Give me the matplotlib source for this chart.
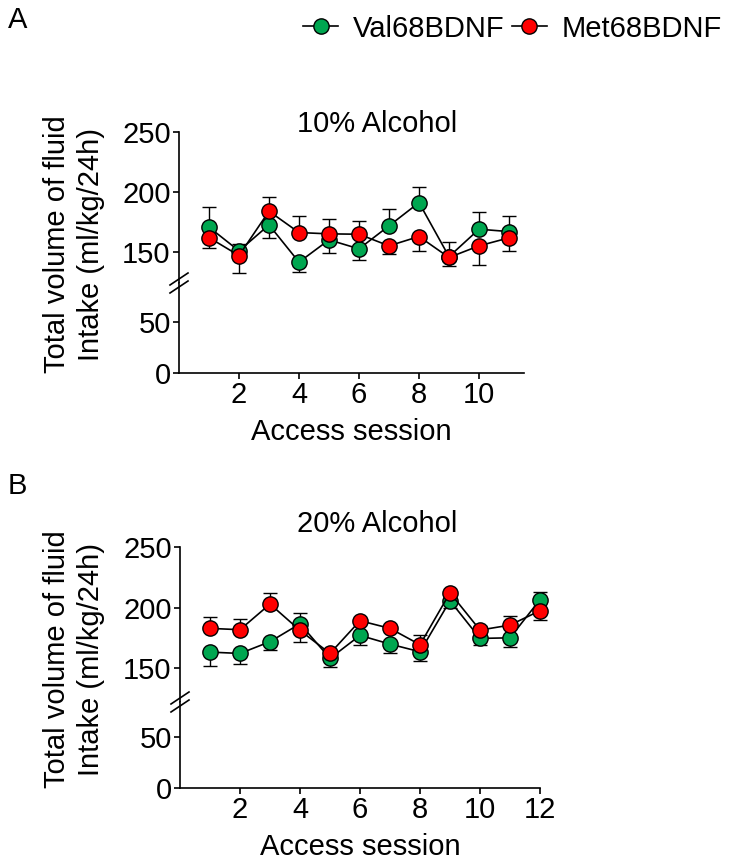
import numpy as np
import matplotlib.pyplot as plt
from matplotlib.lines import Line2D

plt.rcParams['font.family'] = ['Liberation Sans', 'DejaVu Sans']
plt.rcParams['font.size'] = 21

GREEN = "#00a650"
RED = "#ff0000"

# panel A: 10% alcohol, sessions 1-11
sess_a = np.arange(1, 12)
val_a = [170.6, 150.8, 172.5, 141.4, 160.0, 152.5, 171.7, 191.1, 146.0, 168.9, 166.9]
val_a_lo = [0, 0, 10.6, 8.6, 11.1, 9.7, 0, 0, 0, 0, 0]
val_a_hi = [16.4, 6.0, 0, 0, 0, 0, 14.4, 13.3, 12.0, 14.0, 13.4]
met_a = [161.9, 146.9, 183.9, 166.1, 165.0, 164.7, 155.0, 162.8, 145.3, 155.0, 161.7]
met_a_lo = [8.3, 14.7, 0, 0, 0, 0, 6.9, 12.0, 7.0, 15.8, 11.4]
met_a_hi = [0, 0, 11.7, 14.2, 12.8, 11.1, 0, 0, 0, 0, 0]

# panel B: 20% alcohol, sessions 1-12
sess_b = np.arange(1, 13)
val_b = [163.2, 162.1, 171.8, 186.6, 158.0, 177.0, 169.8, 163.5, 205.6, 174.5, 175.0, 206.5]
val_b_lo = [11.3, 8.8, 6.9, 0, 7.0, 8.3, 7.4, 7.5, 6.3, 5.5, 7.4, 0]
val_b_hi = [0, 0, 0, 8.6, 0, 0, 0, 0, 0, 0, 0, 6.0]
met_b = [182.8, 181.7, 202.9, 181.1, 162.1, 189.1, 182.8, 169.3, 212.2, 181.4, 185.5, 197.4]
met_b_lo = [0, 0, 0, 9.6, 0, 0, 0, 0, 0, 0, 0, 7.5]
met_b_hi = [9.6, 8.5, 9.3, 0, 0, 0, 0, 8.2, 0, 3.0, 7.5, 0]

W, H = 729, 863
fig = plt.figure(figsize=(W / 100, H / 100), dpi=100)


def px(x0, top, x1, bottom):
    return [x0 / W, 1 - bottom / H, (x1 - x0) / W, (bottom - top) / H]


def draw_series(ax, x, y, lo, hi, color, z):
    ax.errorbar(x, y, yerr=[lo, hi], fmt="none", ecolor="black", elinewidth=1.0,
                capsize=5, capthick=1.0, zorder=z, clip_on=False)
    ax.plot(x, y, "-o", color="black", lw=1.2, ms=11, mfc=color, mec="black",
            mew=1.0, zorder=z + 0.5, clip_on=False)


def panel(x0, x1, top, brk, bottom, up_lim, low_lim, xmax, xticks, sess, series,
          title, title_y, letter, letter_y):
    ax_up = fig.add_axes(px(x0, top, x1, brk))
    ax_lo = fig.add_axes(px(x0, brk, x1, bottom), sharex=ax_up)
    for ax in (ax_up, ax_lo):
        for s in ("top", "right"):
            ax.spines[s].set_visible(False)
        ax.spines["left"].set_linewidth(1.2)
        ax.spines["bottom"].set_linewidth(1.2)
        ax.tick_params(width=1.2, length=4, pad=2, labelsize=21)
    # data only in upper segment (all values > 130)
    for y, lo, hi, c, z in series:
        draw_series(ax_up, sess, y, lo, hi, c, z)
    ax_up.spines["bottom"].set_visible(False)
    ax_up.tick_params(axis="x", bottom=False, labelbottom=False)
    ax_up.set_ylim(*up_lim)
    ax_up.set_yticks([150, 200, 250])
    ax_lo.set_ylim(*low_lim)
    ax_lo.set_yticks([0, 50])
    ax_lo.set_xlim(0, xmax)
    ax_lo.set_xticks(xticks)
    ax_lo.set_xlabel("Access session", fontsize=21, labelpad=6)
    fig.text(377 / W, 1 - title_y / H, title, fontsize=21, ha="center", va="center")

    # axis break marks
    for dy in (-4, 4):
        fig.add_artist(Line2D([(x0 - 9) / W, (x0 + 9) / W],
                              [1 - (brk + dy + 6) / H, 1 - (brk + dy - 6) / H],
                              color="black", lw=1.2))
    fig.text(74 / W, 1 - ((top + bottom) / 2 - 8) / H,
             "Total volume of fluid\nIntake (ml/kg/24h)", rotation=90,
             ha="center", va="center", fontsize=21, linespacing=1.3)
    fig.text(8 / W, 1 - letter_y / H, letter, fontsize=21, ha="left", va="top")


panel(179, 524, 132, 283, 373, (124, 250), (0, 88), 11.5, [2, 4, 6, 8, 10], sess_a,
      [(val_a, val_a_lo, val_a_hi, GREEN, 2), (met_a, met_a_lo, met_a_hi, RED, 4)],
      "10% Alcohol", 124, "A", 6)
panel(180, 540, 547, 702, 788, (122, 250), (0, 83.5), 12, [2, 4, 6, 8, 10, 12], sess_b,
      [(val_b, val_b_lo, val_b_hi, GREEN, 2), (met_b, met_b_lo, met_b_hi, RED, 4)],
      "20% Alcohol", 524, "B", 472)

handles = [Line2D([], [], color="black", lw=1.2, marker="o", ms=11, mfc=GREEN, mec="black"),
           Line2D([], [], color="black", lw=1.2, marker="o", ms=11, mfc=RED, mec="black")]
fig.legend(handles, ["Val68BDNF", "Met68BDNF"], loc="upper right",
           bbox_to_anchor=(1.01, 1.0), ncol=2, frameon=False, fontsize=21,
           handlelength=1.2, handletextpad=0.5, columnspacing=0.25, borderaxespad=0.1)

fig.savefig("out.png", dpi=100)
